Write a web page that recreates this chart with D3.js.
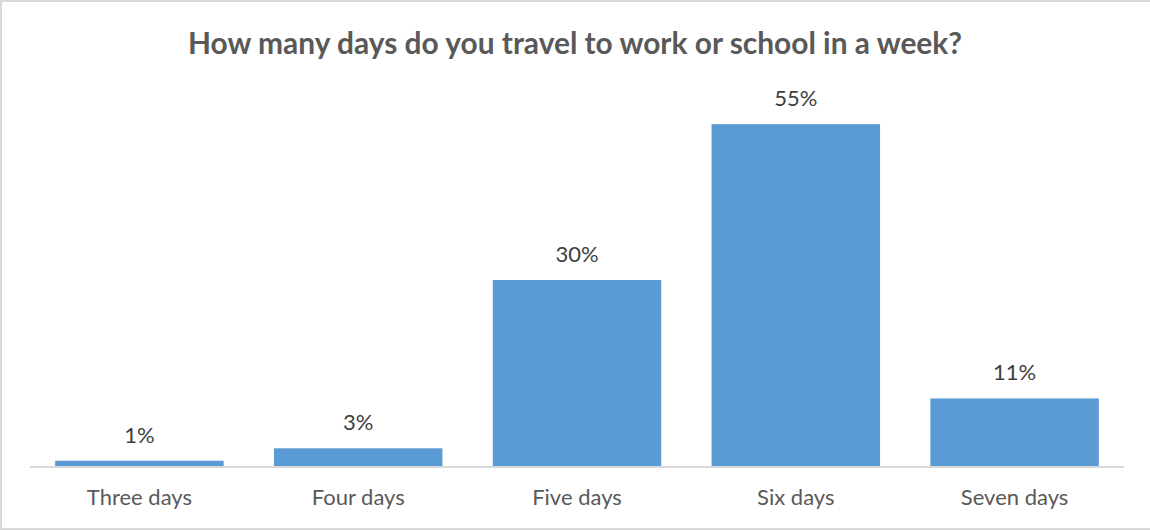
<!DOCTYPE html>
<html>
<head>
<meta charset="utf-8">
<script src="https://cdn.jsdelivr.net/npm/d3@7"></script>
<style>
  html, body { margin: 0; padding: 0; background: #fff; }
  svg { display: block; }
  text { font-family: Lato, "Open Sans", "Liberation Sans", sans-serif; }
</style>
</head>
<body>
<svg id="chart" width="1150" height="531"></svg>
<script>
const categories = ["Three days", "Four days", "Five days", "Six days", "Seven days"];
const shares = [1, 3, 30, 55, 11];
const titleText = "How many days do you travel to work or school in a week?";

const W = 1150, H = 531;
const margin = { left: 30, right: 26, top: 93, bottom: 64 };
const FONT = 'Lato, "Open Sans", "Liberation Sans", sans-serif';
const svg = d3.select("#chart");

// chart frame (right edge sits outside the canvas)
svg.append("rect")
  .attr("x", 1).attr("y", 1)
  .attr("width", W + 10).attr("height", H - 3)
  .attr("fill", "#fff")
  .attr("stroke", "#d9d9d9").attr("stroke-width", 2);

const x = d3.scaleBand()
  .domain(categories)
  .range([margin.left, W - margin.right])
  .paddingInner(0.23).paddingOuter(0.115);

const y = d3.scaleLinear()
  .domain([0, 60])
  .range([H - margin.bottom, margin.top]);

svg.append("text")
  .attr("x", W / 2).attr("y", 54)
  .attr("text-anchor", "middle")
  .attr("font-size", 29.9).attr("font-weight", "bold")
  .attr("fill", "#595959")
  .text(titleText);

svg.selectAll("rect.bar")
  .data(shares)
  .join("rect")
  .attr("class", "bar")
  .attr("x", (d, i) => x(categories[i]))
  .attr("width", x.bandwidth())
  .attr("y", d => y(d))
  .attr("height", d => y(0) - y(d))
  .attr("fill", "#5b9bd5");

svg.selectAll("text.val")
  .data(shares)
  .join("text")
  .attr("class", "val")
  .attr("x", (d, i) => x(categories[i]) + x.bandwidth() / 2)
  .attr("y", d => y(d) - 18)
  .attr("text-anchor", "middle")
  .attr("font-size", 22)
  .attr("fill", "#404040")
  .text(d => d + "%");

const axis = d3.axisBottom(x).tickSize(0).tickPadding(0);
const gx = svg.append("g")
  .attr("transform", `translate(0,${y(0)})`)
  .call(axis);
gx.select(".domain").attr("stroke", "#d9d9d9").attr("stroke-width", 2)
  .attr("d", `M${margin.left},0H${W - margin.right}`);
gx.selectAll(".tick text")
  .attr("y", 38).attr("dy", null)
  .attr("font-size", 22)
  .attr("fill", "#595959")
  .style("font-family", FONT);
</script>
</body>
</html>
